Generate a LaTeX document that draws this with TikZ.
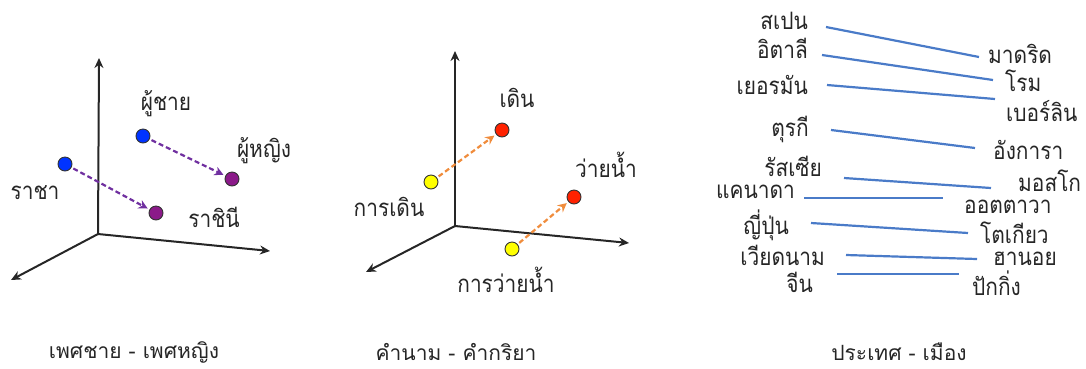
\documentclass[tikz,border=0pt]{standalone}
\usepackage{fontspec}
\newfontfamily\thaifont[Script=Thai,FakeStretch=0.87]{Loma}
\newfontfamily\thaicap[Script=Thai]{Loma}
\usetikzlibrary{arrows.meta}
\definecolor{axisgray}{HTML}{262626}
\definecolor{dotblue}{HTML}{0033FF}
\definecolor{dotpurple}{HTML}{8B1A89}
\definecolor{dotred}{HTML}{FF2200}
\definecolor{dotyellow}{HTML}{FFFF00}
\definecolor{arrpurple}{HTML}{7030A0}
\definecolor{arrorange}{HTML}{F08C3C}
\definecolor{linkblue}{HTML}{4A7BC8}
\definecolor{textgray}{HTML}{262626}
\tikzset{
  axisline/.style={draw=axisgray,line width=2pt,-{Stealth[length=10pt,width=9pt]}},
  dotnode/.style={circle,draw=black!80,line width=0.9pt,minimum size=14pt,inner sep=0pt},
  lbl/.style={font=\thaifont\fontsize{24}{24}\selectfont,text=textgray,inner sep=0pt},
  caption/.style={font=\thaicap\fontsize{21}{21}\selectfont,text=textgray,inner sep=0pt},
  vecarrow/.style={line width=2.2pt,dash pattern=on 5pt off 3pt,-{Stealth[length=9pt,width=9pt]},shorten >=2pt,shorten <=2pt},
  link/.style={draw=linkblue,line width=2.2pt}
}
\begin{document}
\begin{tikzpicture}[x=1pt,y=-1pt]
\useasboundingbox (0,0) rectangle (1086,368);
% ---------- left panel ----------
\coordinate (o1) at (98,234);
\coordinate (t1) at (99,58);
\coordinate (r1) at (270,251);
\coordinate (l1) at (11,280);
\draw[axisline] (o1) -- (t1);
\draw[axisline] (o1) -- (r1);
\draw[axisline] (o1) -- (l1);
\node[dotnode,fill=dotblue] (man) at (143,136) {};
\node[dotnode,fill=dotblue] (king) at (65,164) {};
\node[dotnode,fill=dotpurple] (woman) at (232,179) {};
\node[dotnode,fill=dotpurple] (queen) at (156,213) {};
\node[lbl] (lman) at (166,104) {ผู้ชาย};
\node[lbl] (lking) at (35,193) {ราชา};
\node[lbl] (lwoman) at (264,151) {ผู้หญิง};
\node[lbl] (lqueen) at (214,217) {ราชินี};
\draw[vecarrow,draw=arrpurple] (man) -- (woman);
\draw[vecarrow,draw=arrpurple] (king) -- (queen);
% ---------- middle panel ----------
\coordinate (o2) at (455,226);
\coordinate (t2) at (455,51);
\coordinate (r2) at (629,243);
\coordinate (l2) at (366,272);
\draw[axisline] (o2) -- (t2);
\draw[axisline] (o2) -- (r2);
\draw[axisline] (o2) -- (l2);
\node[dotnode,fill=dotred] (walk) at (502,130) {};
\node[dotnode,fill=dotyellow] (walking) at (431,182) {};
\node[dotnode,fill=dotred] (swim) at (574,197) {};
\node[dotnode,fill=dotyellow] (swimming) at (512,249) {};
\node[lbl] (lwalk) at (517,98) {เดิน};
\node[lbl] (lwalking) at (389,207) {การเดิน};
\node[lbl] (lswim) at (606,165) {ว่ายน้ำ};
\node[lbl] (lswimming) at (506,280) {การว่ายน้ำ};
\draw[vecarrow,draw=arrorange] (walking) -- (walk);
\draw[vecarrow,draw=arrorange] (swimming) -- (swim);
% ---------- right panel ----------
\node[lbl,anchor=east] (c1) at (808,21) {สเปน};
\node[lbl,anchor=east] (c2) at (808,48) {อิตาลี};
\node[lbl,anchor=east] (c3) at (808,85) {เยอรมัน};
\node[lbl,anchor=east] (c4) at (809,129) {ตุรกี};
\node[lbl,anchor=east] (c5) at (822,166) {รัสเซีย};
\node[lbl,anchor=east] (c6) at (795,192) {แคนาดา};
\node[lbl,anchor=east] (c7) at (789,225) {ญี่ปุ่น};
\node[lbl,anchor=east] (c8) at (825,255) {เวียดนาม};
\node[lbl,anchor=east] (c9) at (813,282) {จีน};
\node[lbl,anchor=west] (p1) at (988,54) {มาดริด};
\node[lbl,anchor=west] (p2) at (1005,81) {โรม};
\node[lbl,anchor=west] (p3) at (1006,111) {เบอร์ลิน};
\node[lbl,anchor=west] (p4) at (993,150) {อังการา};
\node[lbl,anchor=west] (p5) at (1018,181) {มอสโก};
\node[lbl,anchor=west] (p6) at (964,207) {ออตตาวา};
\node[lbl,anchor=west] (p7) at (980,233) {โตเกียว};
\node[lbl,anchor=west] (p8) at (993,259) {ฮานอย};
\node[lbl,anchor=west] (p9) at (972,283) {ปักกิ่ง};
\coordinate (a1) at (826,27);  \coordinate (b1) at (979,57);
\coordinate (a2) at (822,55);  \coordinate (b2) at (993,80);
\coordinate (a3) at (827,85);  \coordinate (b3) at (995,99);
\coordinate (a4) at (831,130); \coordinate (b4) at (975,148);
\coordinate (a5) at (844,178); \coordinate (b5) at (991,188);
\coordinate (a6) at (804,198); \coordinate (b6) at (943,198);
\coordinate (a7) at (811,223); \coordinate (b7) at (968,233);
\coordinate (a8) at (846,255); \coordinate (b8) at (977,259);
\coordinate (a9) at (837,274); \coordinate (b9) at (959,274);
\foreach \i in {1,...,9} {\draw[link] (a\i) -- (b\i);}
% ---------- captions ----------
\node[caption] (cap1) at (134,352) {เพศชาย - เพศหญิง};
\node[caption] (cap2) at (456,352) {คำนาม - คำกริยา};
\node[caption] (cap3) at (899,352) {ประเทศ - เมือง};
\end{tikzpicture}
\end{document}
